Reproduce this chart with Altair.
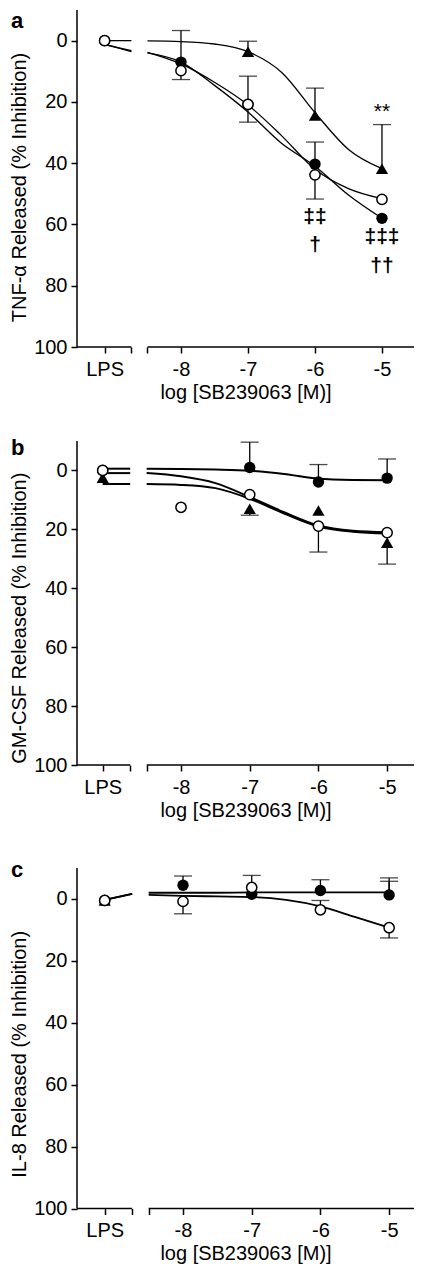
import altair as alt
import pandas as pd

FONT = "Liberation Sans"

# x positions (decades) used for the LPS point and the axis break
LPS_POS = -9.14
BREAK_L = -8.74
BREAK_R = -8.5

dose_x = [LPS_POS, -8, -7, -6, -5]
curve_x = [LPS_POS, BREAK_L, BREAK_R, -8, -7.5, -7, -6.5, -6, -5.5, -5]
curve_seg = [0, 0, 1, 1, 1, 1, 1, 1, 1, 1]

# ---------------- panel a : TNF-alpha ----------------
a_open = [0, 9.8, 20.8, 43.8, 51.8]
a_filled = [0, 7.0, 20.8, 40.3, 58.0]
a_tri = [None, None, 3.6, 24.4, 41.8]
a_err_x = [-8, -8, -7, -7, -7, -6, -6, -6, -5]
a_err_from = [7.0, 9.8, 20.8, 20.8, 3.6, 24.4, 40.3, 43.8, 41.8]
a_err_to = [-3.3, 12.7, 11.6, 26.6, 0.2, 15.5, 33.1, 51.7, 27.4]
a_tri_fit = [0, 0, 0.1, 0.3, 1.1, 3.6, 10.3, 23.5, 35.5, 41.8]
a_open_fit = [1.3, 3.3, 3.8, 7.6, 13.6, 21.0, 31.0, 42.0, 48.3, 51.6]
a_filled_fit = [1.1, 3.6, 4.0, 7.0, 14.6, 23.3, 33.5, 41.0, 50.4, 58.0]
a_ann_text = ["**", "‡‡", "†", "‡‡‡", "††"]
a_ann_x = [-5, -6, -6, -5, -5]
a_ann_y = [21.7, 57.6, 66.7, 64.2, 73.7]

# ---------------- panel b : GM-CSF ----------------
b_open = [0, 12.5, 8.2, 18.9, 21.1]
b_filled = [0, None, -1.0, 3.9, 2.6]
b_tri = [2.5, None, 13.0, 13.6, 24.5]
b_err_x = [-7, -7, -6, -6, -5, -5]
b_err_from = [-1.0, 13.0, 3.9, 18.9, 2.6, 24.5]
b_err_to = [-9.6, 15.2, -2.0, 27.7, -3.9, 31.8]
b_filled_fit = [-0.6, -0.6, -0.6, -0.5, -0.3, 0.1, 1.2, 2.8, 3.2, 3.3]
b_open_fit = [0.9, 0.9, 0.9, 2.0, 4.3, 9.0, 14.2, 18.7, 20.5, 21.0]
b_tri_fit = [4.6, 4.6, 4.6, 4.9, 6.0, 9.6, 14.6, 19.0, 20.8, 21.4]

# ---------------- panel c : IL-8 ----------------
c_open = [0.5, 0.8, -3.7, 3.5, 9.3]
c_filled = [0.5, -4.4, -1.5, -2.7, -1.3]
c_tri = [0.5, None, None, None, None]
c_err_x = [-8, -8, -7, -6, -6, -5, -5, -5]
c_err_from = [-4.4, 0.8, -3.7, -2.7, 3.5, -1.3, -1.3, 9.3]
c_err_to = [-7.4, 4.8, -7.6, -6.2, 0.5, -6.8, -5.7, 12.6]
c_filled_fit = [0.3, -1.6, -2.0, -2.0, -2.0, -2.1, -2.1, -2.1, -2.1, -2.1]
c_open_fit = [0.3, -1.6, -1.3, -1.0, -0.8, -0.6, 0.3, 2.4, 5.8, 9.3]

X_TITLE = "log [SB239063 [M)]"
FS = 20


def panel(letter, letter_dy, ytitle, title_y, width, height, y_top, x_min, x_max,
          open_v, filled_v, tri_v, err_x, err_from, err_to, fits, line_w,
          ann=None):
    xs = alt.Scale(domain=[x_min, x_max], nice=False, zero=False)
    ys = alt.Scale(domain=[y_top, 100], reverse=True, nice=False, zero=False)
    x_axis = alt.Axis(
        values=[LPS_POS, BREAK_L, BREAK_R, -8, -7, -6, -5],
        labelExpr="datum.value < -9 ? 'LPS' : (datum.value < -8.2 ? '' : '' + datum.value)",
        title=X_TITLE, domain=False, grid=False, tickSize=6, tickWidth=1.5,
        tickColor="black", labelFont=FONT, labelFontSize=FS, labelColor="black",
        labelPadding=6, titleFont=FONT, titleFontSize=FS, titleFontWeight="normal",
        titleColor="black", titlePadding=3, labelFlush=False, labelOverlap=False)
    y_axis = alt.Axis(
        values=[0, 20, 40, 60, 80, 100], title=ytitle, domain=False, grid=False,
        tickSize=6, tickWidth=1.5, tickColor="black", labelFont=FONT,
        labelFontSize=FS, labelColor="black", labelPadding=4, titleFont=FONT,
        titleFontSize=FS, titleFontWeight="normal", titleColor="black",
        titleX=-58, titleY=title_y, titleBaseline="middle", titleAlign="center",
        labelFlush=False)

    def X(f):
        return alt.X(f, type="quantitative", scale=xs, axis=x_axis)

    def Y(f):
        return alt.Y(f, type="quantitative", scale=ys, axis=y_axis)

    layers = []
    # broken x axis line
    xseg = pd.DataFrame({"x0": [x_min, BREAK_R], "x1": [BREAK_L, x_max], "y": [100, 100]})
    layers.append(alt.Chart(xseg).mark_rule(color="black", strokeWidth=1.5).encode(
        x=X("x0"), x2="x1", y=Y("y")))
    # y axis line
    yseg = pd.DataFrame({"x": [x_min], "y0": [-10], "y1": [100]})
    layers.append(alt.Chart(yseg).mark_rule(color="black", strokeWidth=1.5).encode(
        x=X("x"), y=Y("y0"), y2="y1"))

    # fitted curves
    rows = []
    for name, vals in fits.items():
        for xv, sg, yv in zip(curve_x, curve_seg, vals):
            rows.append({"x": xv, "y": yv, "series": name, "seg": sg})
    fit_df = pd.DataFrame(rows)
    layers.append(alt.Chart(fit_df).mark_line(
        color="black", strokeWidth=line_w, interpolate="monotone").encode(
        x=X("x"), y=Y("y"), detail=["series:N", "seg:N"]))

    # error bars
    err_df = pd.DataFrame({"x": err_x, "y0": err_from, "y1": err_to})
    layers.append(alt.Chart(err_df).mark_rule(color="black", strokeWidth=1.3).encode(
        x=X("x"), y=Y("y0"), y2="y1"))
    layers.append(alt.Chart(err_df).mark_tick(
        color="black", orient="horizontal", size=18, thickness=1.3).encode(
        x=X("x"), y=Y("y1")))

    def pts(vals):
        return pd.DataFrame([{"x": xv, "y": yv} for xv, yv in zip(dose_x, vals) if yv is not None])

    layers.append(alt.Chart(pts(tri_v)).mark_point(
        shape="triangle-up", filled=True, color="black", size=150, opacity=1).encode(
        x=X("x"), y=Y("y")))
    layers.append(alt.Chart(pts(filled_v)).mark_point(
        shape="circle", filled=True, color="black", size=130, opacity=1).encode(
        x=X("x"), y=Y("y")))
    layers.append(alt.Chart(pts(open_v)).mark_point(
        shape="circle", filled=True, fill="white", stroke="black", strokeWidth=1.5,
        size=105, opacity=1).encode(x=X("x"), y=Y("y")))

    if ann is not None:
        t, ax, ay = ann
        ann_df = pd.DataFrame({"t": t, "x": ax, "y": ay})
        stars = ann_df[ann_df["t"] == "**"]
        daggers = ann_df[ann_df["t"] != "**"]
        layers.append(alt.Chart(daggers).mark_text(
            font=FONT, fontSize=21, fontWeight="bold", color="#000000",
            baseline="middle", align="center").encode(
            x=X("x"), y=Y("y"), text="t:N"))
        layers.append(alt.Chart(stars).mark_text(
            font=FONT, fontSize=21, color="#000000", baseline="middle",
            align="center", dy=5).encode(
            x=X("x"), y=Y("y"), text="t:N"))

    lt = pd.DataFrame({"t": [letter]})
    layers.append(alt.Chart(lt).mark_text(
        font=FONT, fontSize=22, fontWeight="bold", color="black", align="left",
        baseline="alphabetic").encode(
        x=alt.value(-66), y=alt.value(letter_dy), text="t:N"))

    return alt.layer(*layers).properties(width=width, height=height)


pa = panel("a", 17.6, "TNF-α Released (% Inhibition)", 177, 337, 337, -10, -9.552, -4.522,
           a_open, a_filled, a_tri, a_err_x, a_err_from, a_err_to,
           {"tri": a_tri_fit, "open": a_open_fit, "filled": a_filled_fit}, 1.3,
           ann=(a_ann_text, a_ann_x, a_ann_y))
pb = panel("b", 14, "GM-CSF Released (% Inhibition)", 176.7, 337, 324, -10, -9.514, -4.609,
           b_open, b_filled, b_tri, b_err_x, b_err_from, b_err_to,
           {"tri": b_tri_fit, "open": b_open_fit, "filled": b_filled_fit}, 2.0)
pc = panel("c", 18, "IL-8 Released (% Inhibition)", 194.8, 337, 349.5, -12.9, -9.543, -4.638,
           c_open, c_filled, c_tri, c_err_x, c_err_from, c_err_to,
           {"open": c_open_fit, "filled": c_filled_fit}, 1.8)

chart = alt.vconcat(pa, pb, pc, spacing=94, bounds="flush").properties(
    padding=0).configure_view(stroke="transparent")

chart.save("out.html", embed_options={"renderer": "svg", "actions": False})
